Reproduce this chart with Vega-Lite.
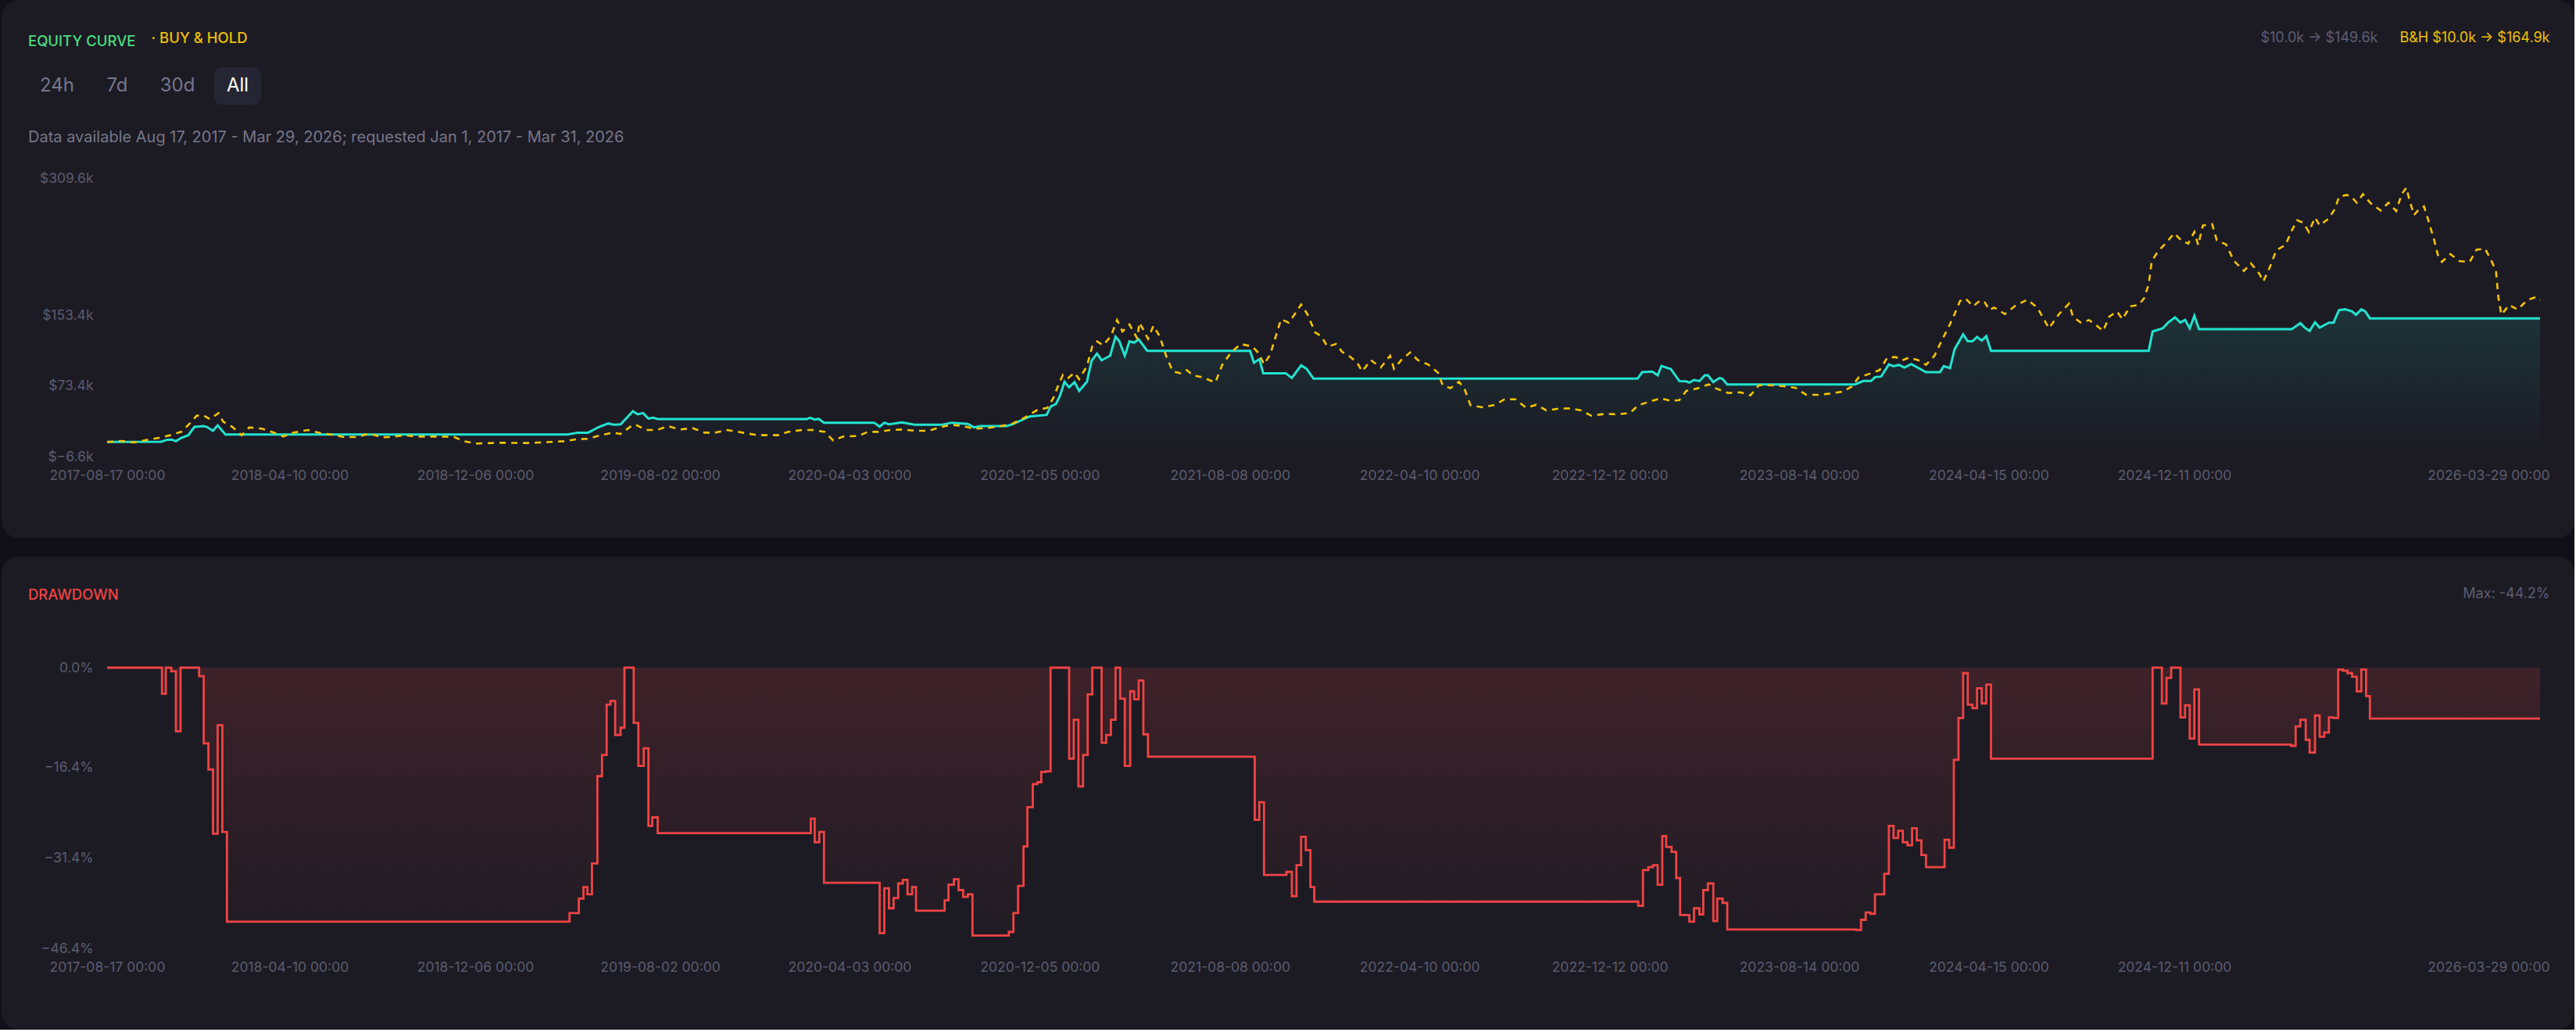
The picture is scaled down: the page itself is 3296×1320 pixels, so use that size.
{
  "$schema": "https://vega.github.io/schema/vega-lite/v6.json",
  "background": "#111018",
  "padding": {"left": 2, "top": 0, "right": 0, "bottom": 0},
  "spacing": 24,
  "config": {
    "font": "Inter",
    "view": {"stroke": null},
    "axis": {"grid": false, "domain": false, "ticks": false, "labelFont": "Inter", "labelFontSize": 17.5, "labelColor": "#5c5b6e", "titleFont": "Inter", "titleFontWeight": "normal"}
  },
  "datasets": {
    "equity": [
      {"date": "2017-08-17", "value": 10.0}, {"date": "2017-10-26", "value": 10.3}, {"date": "2017-11-03", "value": 12.6},
      {"date": "2017-11-09", "value": 12.6}, {"date": "2017-11-14", "value": 10.9}, {"date": "2017-11-21", "value": 14.7},
      {"date": "2017-11-30", "value": 17.7}, {"date": "2017-12-08", "value": 27.1}, {"date": "2017-12-20", "value": 28.0},
      {"date": "2017-12-24", "value": 27.1}, {"date": "2018-01-01", "value": 22.7}, {"date": "2018-01-07", "value": 28.9},
      {"date": "2018-01-17", "value": 18.5}, {"date": "2019-04-04", "value": 18.5}, {"date": "2019-04-18", "value": 20.6},
      {"date": "2019-05-01", "value": 20.6}, {"date": "2019-05-14", "value": 26.6}, {"date": "2019-05-27", "value": 31.0},
      {"date": "2019-06-04", "value": 29.5}, {"date": "2019-06-12", "value": 30.1}, {"date": "2019-06-28", "value": 44.9},
      {"date": "2019-07-04", "value": 41.4}, {"date": "2019-07-11", "value": 42.8}, {"date": "2019-07-18", "value": 36.6},
      {"date": "2019-07-24", "value": 37.5}, {"date": "2019-07-30", "value": 36.0}, {"date": "2020-02-08", "value": 36.0},
      {"date": "2020-02-12", "value": 37.5}, {"date": "2020-02-18", "value": 35.4}, {"date": "2020-02-23", "value": 36.3},
      {"date": "2020-03-01", "value": 31.9}, {"date": "2020-05-05", "value": 31.9}, {"date": "2020-05-12", "value": 27.4},
      {"date": "2020-05-18", "value": 31.9}, {"date": "2020-05-24", "value": 30.1}, {"date": "2020-06-10", "value": 32.2},
      {"date": "2020-06-18", "value": 31.0}, {"date": "2020-06-27", "value": 29.5}, {"date": "2020-07-31", "value": 29.5},
      {"date": "2020-08-13", "value": 31.9}, {"date": "2020-09-03", "value": 30.4}, {"date": "2020-09-11", "value": 26.6},
      {"date": "2020-09-19", "value": 28.0}, {"date": "2020-10-23", "value": 28.0}, {"date": "2020-10-31", "value": 30.1},
      {"date": "2020-11-22", "value": 39.0}, {"date": "2020-12-14", "value": 40.8}, {"date": "2020-12-19", "value": 50.2},
      {"date": "2020-12-26", "value": 53.2}, {"date": "2020-12-31", "value": 62.1}, {"date": "2021-01-06", "value": 78.4},
      {"date": "2021-01-12", "value": 72.1}, {"date": "2021-01-19", "value": 78.1}, {"date": "2021-01-25", "value": 68.0},
      {"date": "2021-02-04", "value": 78.4}, {"date": "2021-02-10", "value": 102.1}, {"date": "2021-02-17", "value": 110.3},
      {"date": "2021-02-23", "value": 102.9}, {"date": "2021-03-06", "value": 108.0}, {"date": "2021-03-13", "value": 129.6},
      {"date": "2021-03-18", "value": 124.3}, {"date": "2021-03-25", "value": 108.0}, {"date": "2021-03-31", "value": 124.3},
      {"date": "2021-04-06", "value": 122.8}, {"date": "2021-04-12", "value": 126.6}, {"date": "2021-04-23", "value": 113.6},
      {"date": "2021-09-03", "value": 113.6}, {"date": "2021-09-08", "value": 100.0}, {"date": "2021-09-15", "value": 104.1},
      {"date": "2021-09-20", "value": 88.1}, {"date": "2021-10-19", "value": 88.1}, {"date": "2021-10-27", "value": 82.8},
      {"date": "2021-11-08", "value": 97.0}, {"date": "2021-11-15", "value": 93.2}, {"date": "2021-11-24", "value": 81.9},
      {"date": "2023-01-17", "value": 81.9}, {"date": "2023-01-23", "value": 89.3}, {"date": "2023-02-05", "value": 89.9},
      {"date": "2023-02-12", "value": 85.8}, {"date": "2023-02-17", "value": 96.4}, {"date": "2023-03-01", "value": 92.9},
      {"date": "2023-03-12", "value": 79.2}, {"date": "2023-03-21", "value": 78.9}, {"date": "2023-03-25", "value": 77.5},
      {"date": "2023-03-31", "value": 80.4}, {"date": "2023-04-07", "value": 79.2}, {"date": "2023-04-14", "value": 85.8},
      {"date": "2023-04-18", "value": 85.8}, {"date": "2023-04-25", "value": 78.1}, {"date": "2023-05-03", "value": 82.8},
      {"date": "2023-05-07", "value": 81.6}, {"date": "2023-05-13", "value": 75.4}, {"date": "2023-10-25", "value": 75.4},
      {"date": "2023-11-05", "value": 79.3}, {"date": "2023-11-15", "value": 79.3}, {"date": "2023-11-20", "value": 83.7},
      {"date": "2023-11-28", "value": 84.3}, {"date": "2023-12-08", "value": 98.2}, {"date": "2023-12-14", "value": 96.1},
      {"date": "2023-12-21", "value": 97.6}, {"date": "2023-12-28", "value": 94.6}, {"date": "2024-01-06", "value": 98.5},
      {"date": "2024-01-25", "value": 89.3}, {"date": "2024-02-12", "value": 89.3}, {"date": "2024-02-17", "value": 96.1},
      {"date": "2024-02-25", "value": 94.0}, {"date": "2024-03-02", "value": 115.4}, {"date": "2024-03-13", "value": 132.3},
      {"date": "2024-03-19", "value": 124.3}, {"date": "2024-03-25", "value": 124.3}, {"date": "2024-03-31", "value": 129.3},
      {"date": "2024-04-06", "value": 125.2}, {"date": "2024-04-12", "value": 130.2}, {"date": "2024-04-18", "value": 113.6},
      {"date": "2024-11-08", "value": 113.6}, {"date": "2024-11-13", "value": 135.5}, {"date": "2024-11-26", "value": 139.1},
      {"date": "2024-12-03", "value": 145.6}, {"date": "2024-12-12", "value": 151.5}, {"date": "2024-12-19", "value": 145.6},
      {"date": "2024-12-25", "value": 148.8}, {"date": "2024-12-31", "value": 139.1}, {"date": "2025-01-06", "value": 153.3},
      {"date": "2025-01-12", "value": 138.2}, {"date": "2025-05-12", "value": 138.2}, {"date": "2025-05-23", "value": 145.0},
      {"date": "2025-05-29", "value": 139.7}, {"date": "2025-06-04", "value": 136.1}, {"date": "2025-06-11", "value": 145.9},
      {"date": "2025-06-17", "value": 139.9}, {"date": "2025-06-29", "value": 145.6}, {"date": "2025-07-05", "value": 145.6},
      {"date": "2025-07-12", "value": 159.8}, {"date": "2025-07-20", "value": 160.7}, {"date": "2025-07-29", "value": 158.3},
      {"date": "2025-08-03", "value": 154.5}, {"date": "2025-08-10", "value": 160.7}, {"date": "2025-08-15", "value": 158.3},
      {"date": "2025-08-21", "value": 150.5}, {"date": "2026-03-29", "value": 150.5}
    ],
    "buyhold": [
      {"date": "2017-08-17", "value": 10.0}, {"date": "2017-09-05", "value": 11.2}, {"date": "2017-09-21", "value": 9.4},
      {"date": "2017-10-07", "value": 12.3}, {"date": "2017-10-23", "value": 14.7}, {"date": "2017-11-07", "value": 17.7},
      {"date": "2017-11-21", "value": 21.5}, {"date": "2017-12-02", "value": 31.0}, {"date": "2017-12-11", "value": 39.9},
      {"date": "2017-12-20", "value": 39.9}, {"date": "2017-12-28", "value": 36.0}, {"date": "2018-01-08", "value": 42.8},
      {"date": "2018-01-14", "value": 33.1}, {"date": "2018-01-26", "value": 27.1}, {"date": "2018-02-07", "value": 17.7},
      {"date": "2018-02-17", "value": 26.6}, {"date": "2018-03-05", "value": 25.1}, {"date": "2018-03-19", "value": 21.2},
      {"date": "2018-04-02", "value": 16.2}, {"date": "2018-04-15", "value": 20.6}, {"date": "2018-05-04", "value": 23.6},
      {"date": "2018-05-20", "value": 20.0}, {"date": "2018-06-05", "value": 18.3}, {"date": "2018-06-19", "value": 15.6},
      {"date": "2018-07-06", "value": 15.6}, {"date": "2018-07-22", "value": 19.7}, {"date": "2018-08-07", "value": 15.3},
      {"date": "2018-08-20", "value": 15.6}, {"date": "2018-09-05", "value": 17.7}, {"date": "2018-09-21", "value": 16.2},
      {"date": "2018-10-23", "value": 16.2}, {"date": "2018-11-09", "value": 15.6}, {"date": "2018-11-21", "value": 10.9},
      {"date": "2018-12-07", "value": 8.2}, {"date": "2019-01-07", "value": 9.1}, {"date": "2019-02-11", "value": 8.8},
      {"date": "2019-03-14", "value": 10.0}, {"date": "2019-04-02", "value": 10.9}, {"date": "2019-04-15", "value": 13.0},
      {"date": "2019-05-01", "value": 13.6}, {"date": "2019-05-17", "value": 17.7}, {"date": "2019-06-02", "value": 20.6},
      {"date": "2019-06-12", "value": 19.1}, {"date": "2019-06-28", "value": 29.5}, {"date": "2019-07-03", "value": 28.9},
      {"date": "2019-07-15", "value": 23.6}, {"date": "2019-07-29", "value": 23.6}, {"date": "2019-08-12", "value": 28.0},
      {"date": "2019-08-28", "value": 24.2}, {"date": "2019-09-13", "value": 25.7}, {"date": "2019-09-29", "value": 20.6},
      {"date": "2019-10-12", "value": 20.6}, {"date": "2019-10-28", "value": 23.6}, {"date": "2019-11-17", "value": 20.6},
      {"date": "2019-12-06", "value": 17.7}, {"date": "2020-01-02", "value": 17.7}, {"date": "2020-01-15", "value": 21.5},
      {"date": "2020-02-02", "value": 23.6}, {"date": "2020-02-15", "value": 23.6}, {"date": "2020-03-02", "value": 21.5},
      {"date": "2020-03-13", "value": 11.7}, {"date": "2020-03-26", "value": 16.2}, {"date": "2020-04-14", "value": 16.8},
      {"date": "2020-04-27", "value": 21.5}, {"date": "2020-05-10", "value": 21.5}, {"date": "2020-05-26", "value": 23.6},
      {"date": "2020-06-11", "value": 24.2}, {"date": "2020-06-27", "value": 22.7}, {"date": "2020-07-15", "value": 22.7},
      {"date": "2020-07-28", "value": 26.6}, {"date": "2020-08-13", "value": 29.5}, {"date": "2020-08-28", "value": 28.0},
      {"date": "2020-09-11", "value": 25.1}, {"date": "2020-09-30", "value": 26.0}, {"date": "2020-10-16", "value": 28.0},
      {"date": "2020-10-31", "value": 31.0}, {"date": "2020-11-14", "value": 36.9}, {"date": "2020-12-02", "value": 46.4},
      {"date": "2020-12-15", "value": 48.8}, {"date": "2020-12-23", "value": 60.6}, {"date": "2020-12-29", "value": 74.5},
      {"date": "2021-01-04", "value": 86.4}, {"date": "2021-01-11", "value": 82.8}, {"date": "2021-01-19", "value": 88.7},
      {"date": "2021-01-25", "value": 81.3}, {"date": "2021-02-04", "value": 96.1}, {"date": "2021-02-11", "value": 118.9},
      {"date": "2021-02-17", "value": 124.3}, {"date": "2021-02-25", "value": 119.8}, {"date": "2021-03-07", "value": 130.2},
      {"date": "2021-03-15", "value": 148.5}, {"date": "2021-03-22", "value": 135.5}, {"date": "2021-03-31", "value": 143.5},
      {"date": "2021-04-10", "value": 127.8}, {"date": "2021-04-13", "value": 145.6}, {"date": "2021-04-24", "value": 127.2},
      {"date": "2021-05-01", "value": 142.0}, {"date": "2021-05-09", "value": 130.2}, {"date": "2021-05-18", "value": 106.5},
      {"date": "2021-05-26", "value": 90.2}, {"date": "2021-06-05", "value": 88.1}, {"date": "2021-06-13", "value": 91.7},
      {"date": "2021-06-21", "value": 85.8}, {"date": "2021-07-04", "value": 83.4}, {"date": "2021-07-20", "value": 77.5},
      {"date": "2021-07-29", "value": 97.6}, {"date": "2021-08-10", "value": 112.4}, {"date": "2021-08-22", "value": 121.3},
      {"date": "2021-09-06", "value": 118.3}, {"date": "2021-09-14", "value": 110.9}, {"date": "2021-09-21", "value": 98.2},
      {"date": "2021-09-29", "value": 109.4}, {"date": "2021-10-13", "value": 149.4}, {"date": "2021-10-23", "value": 145.6},
      {"date": "2021-11-01", "value": 156.8}, {"date": "2021-11-08", "value": 166.3}, {"date": "2021-11-16", "value": 155.3},
      {"date": "2021-11-26", "value": 134.6}, {"date": "2021-12-04", "value": 130.2}, {"date": "2021-12-12", "value": 118.3},
      {"date": "2021-12-23", "value": 121.3}, {"date": "2021-12-31", "value": 112.4}, {"date": "2022-01-10", "value": 107.1},
      {"date": "2022-01-19", "value": 100.6}, {"date": "2022-01-26", "value": 90.2}, {"date": "2022-02-06", "value": 103.0},
      {"date": "2022-02-19", "value": 94.6}, {"date": "2022-02-25", "value": 101.2}, {"date": "2022-03-03", "value": 108.0},
      {"date": "2022-03-08", "value": 93.2}, {"date": "2022-03-18", "value": 103.5}, {"date": "2022-03-29", "value": 111.8},
      {"date": "2022-04-08", "value": 102.9}, {"date": "2022-04-21", "value": 98.2}, {"date": "2022-05-04", "value": 88.7},
      {"date": "2022-05-10", "value": 74.5}, {"date": "2022-05-20", "value": 71.0}, {"date": "2022-05-31", "value": 78.4},
      {"date": "2022-06-07", "value": 71.0}, {"date": "2022-06-15", "value": 51.7}, {"date": "2022-07-01", "value": 49.4},
      {"date": "2022-07-17", "value": 52.3}, {"date": "2022-07-29", "value": 58.5}, {"date": "2022-08-12", "value": 58.5},
      {"date": "2022-08-26", "value": 48.8}, {"date": "2022-09-08", "value": 52.3}, {"date": "2022-09-21", "value": 45.8},
      {"date": "2022-10-07", "value": 47.9}, {"date": "2022-10-23", "value": 48.2}, {"date": "2022-11-05", "value": 45.8},
      {"date": "2022-11-18", "value": 39.9}, {"date": "2022-12-07", "value": 42.0}, {"date": "2022-12-22", "value": 41.4},
      {"date": "2023-01-07", "value": 42.8}, {"date": "2023-01-18", "value": 51.7}, {"date": "2023-02-03", "value": 56.2},
      {"date": "2023-02-16", "value": 59.7}, {"date": "2023-03-01", "value": 56.8}, {"date": "2023-03-12", "value": 57.6},
      {"date": "2023-03-21", "value": 68.0}, {"date": "2023-04-05", "value": 71.0}, {"date": "2023-04-19", "value": 75.4},
      {"date": "2023-04-28", "value": 71.0}, {"date": "2023-05-14", "value": 65.6}, {"date": "2023-05-30", "value": 66.5},
      {"date": "2023-06-12", "value": 63.0}, {"date": "2023-06-23", "value": 74.5}, {"date": "2023-07-09", "value": 74.5},
      {"date": "2023-07-25", "value": 73.3}, {"date": "2023-08-09", "value": 71.6}, {"date": "2023-08-23", "value": 63.6},
      {"date": "2023-09-08", "value": 63.6}, {"date": "2023-09-23", "value": 65.0}, {"date": "2023-10-09", "value": 67.1},
      {"date": "2023-10-21", "value": 73.0}, {"date": "2023-10-30", "value": 83.4}, {"date": "2023-11-12", "value": 87.2},
      {"date": "2023-11-26", "value": 91.7}, {"date": "2023-12-06", "value": 105.9}, {"date": "2023-12-17", "value": 106.5},
      {"date": "2023-12-25", "value": 102.6}, {"date": "2024-01-03", "value": 105.9}, {"date": "2024-01-15", "value": 102.9},
      {"date": "2024-01-25", "value": 97.6}, {"date": "2024-02-05", "value": 108.0}, {"date": "2024-02-13", "value": 122.8},
      {"date": "2024-02-24", "value": 142.0}, {"date": "2024-03-02", "value": 155.3}, {"date": "2024-03-09", "value": 170.1},
      {"date": "2024-03-16", "value": 173.1}, {"date": "2024-03-26", "value": 164.2}, {"date": "2024-04-03", "value": 170.1},
      {"date": "2024-04-09", "value": 170.1}, {"date": "2024-04-16", "value": 159.8}, {"date": "2024-04-22", "value": 162.7},
      {"date": "2024-04-28", "value": 159.8}, {"date": "2024-05-06", "value": 155.3}, {"date": "2024-05-20", "value": 165.1},
      {"date": "2024-06-04", "value": 171.6}, {"date": "2024-06-17", "value": 162.7}, {"date": "2024-07-02", "value": 139.1},
      {"date": "2024-07-15", "value": 155.3}, {"date": "2024-07-28", "value": 167.2}, {"date": "2024-08-02", "value": 152.4},
      {"date": "2024-08-12", "value": 145.6}, {"date": "2024-08-23", "value": 148.5}, {"date": "2024-09-02", "value": 142.0},
      {"date": "2024-09-10", "value": 136.1}, {"date": "2024-09-18", "value": 152.4}, {"date": "2024-09-28", "value": 158.3},
      {"date": "2024-10-05", "value": 149.4}, {"date": "2024-10-15", "value": 164.2}, {"date": "2024-10-26", "value": 165.7},
      {"date": "2024-11-02", "value": 173.1}, {"date": "2024-11-08", "value": 189.4}, {"date": "2024-11-12", "value": 216.0},
      {"date": "2024-11-20", "value": 226.4}, {"date": "2024-12-01", "value": 236.8}, {"date": "2024-12-11", "value": 247.1},
      {"date": "2024-12-20", "value": 239.1}, {"date": "2024-12-29", "value": 235.3}, {"date": "2025-01-06", "value": 248.6},
      {"date": "2025-01-11", "value": 233.8}, {"date": "2025-01-17", "value": 256.0}, {"date": "2025-01-29", "value": 257.5},
      {"date": "2025-02-04", "value": 239.1}, {"date": "2025-02-16", "value": 234.4}, {"date": "2025-02-26", "value": 216.0},
      {"date": "2025-03-11", "value": 204.2}, {"date": "2025-03-20", "value": 213.1}, {"date": "2025-03-31", "value": 201.2},
      {"date": "2025-04-05", "value": 192.4}, {"date": "2025-04-13", "value": 207.2}, {"date": "2025-04-22", "value": 227.9},
      {"date": "2025-05-04", "value": 233.8}, {"date": "2025-05-11", "value": 248.6}, {"date": "2025-05-19", "value": 261.9},
      {"date": "2025-05-27", "value": 259.0}, {"date": "2025-06-03", "value": 248.6}, {"date": "2025-06-11", "value": 264.9},
      {"date": "2025-06-17", "value": 256.0}, {"date": "2025-06-29", "value": 264.0}, {"date": "2025-07-07", "value": 275.2},
      {"date": "2025-07-12", "value": 288.6}, {"date": "2025-07-22", "value": 290.6}, {"date": "2025-07-27", "value": 289.5},
      {"date": "2025-08-04", "value": 281.8}, {"date": "2025-08-12", "value": 291.5}, {"date": "2025-08-22", "value": 281.2},
      {"date": "2025-09-04", "value": 272.9}, {"date": "2025-09-14", "value": 281.8}, {"date": "2025-09-24", "value": 272.3},
      {"date": "2025-10-01", "value": 291.5}, {"date": "2025-10-07", "value": 298.9}, {"date": "2025-10-11", "value": 285.6},
      {"date": "2025-10-17", "value": 267.8}, {"date": "2025-10-23", "value": 273.8}, {"date": "2025-10-30", "value": 277.6},
      {"date": "2025-11-04", "value": 263.4}, {"date": "2025-11-12", "value": 239.7}, {"date": "2025-11-17", "value": 222.0},
      {"date": "2025-11-22", "value": 214.6}, {"date": "2025-12-03", "value": 223.4}, {"date": "2025-12-15", "value": 215.4},
      {"date": "2025-12-28", "value": 214.6}, {"date": "2026-01-06", "value": 228.5}, {"date": "2026-01-17", "value": 229.4},
      {"date": "2026-01-25", "value": 216.0}, {"date": "2026-01-31", "value": 204.2}, {"date": "2026-02-03", "value": 174.6},
      {"date": "2026-02-07", "value": 154.5}, {"date": "2026-02-17", "value": 165.7}, {"date": "2026-02-28", "value": 160.4},
      {"date": "2026-03-13", "value": 171.6}, {"date": "2026-03-24", "value": 174.6}, {"date": "2026-03-29", "value": 171.0}
    ],
    "drawdown": [
      {"date": "2017-08-17", "dd": 0}, {"date": "2017-10-27", "dd": -4.3}, {"date": "2017-11-01", "dd": 0},
      {"date": "2017-11-08", "dd": -0.6}, {"date": "2017-11-14", "dd": -10.5}, {"date": "2017-11-20", "dd": 0},
      {"date": "2017-12-14", "dd": -1.4}, {"date": "2017-12-20", "dd": -12.5}, {"date": "2017-12-26", "dd": -16.8},
      {"date": "2018-01-01", "dd": -27.4}, {"date": "2018-01-07", "dd": -9.5}, {"date": "2018-01-13", "dd": -27.1},
      {"date": "2018-01-19", "dd": -41.9}, {"date": "2019-04-07", "dd": -40.5}, {"date": "2019-04-19", "dd": -38.1},
      {"date": "2019-04-25", "dd": -36.2}, {"date": "2019-04-30", "dd": -37.4}, {"date": "2019-05-06", "dd": -32.3},
      {"date": "2019-05-13", "dd": -17.9}, {"date": "2019-05-19", "dd": -14.4}, {"date": "2019-05-25", "dd": -6.1},
      {"date": "2019-05-30", "dd": -5.5}, {"date": "2019-06-05", "dd": -11.1}, {"date": "2019-06-12", "dd": -9.9},
      {"date": "2019-06-17", "dd": 0}, {"date": "2019-06-29", "dd": -9.1}, {"date": "2019-07-05", "dd": -16.2},
      {"date": "2019-07-12", "dd": -13.3}, {"date": "2019-07-18", "dd": -26.1}, {"date": "2019-07-23", "dd": -24.7},
      {"date": "2019-07-30", "dd": -27.3}, {"date": "2020-02-13", "dd": -24.9}, {"date": "2020-02-18", "dd": -28.8},
      {"date": "2020-02-24", "dd": -27.1}, {"date": "2020-03-01", "dd": -35.5}, {"date": "2020-05-12", "dd": -43.8},
      {"date": "2020-05-18", "dd": -36.4}, {"date": "2020-05-24", "dd": -39.7}, {"date": "2020-05-30", "dd": -38.0},
      {"date": "2020-06-05", "dd": -35.6}, {"date": "2020-06-11", "dd": -35.0}, {"date": "2020-06-17", "dd": -37.4},
      {"date": "2020-06-23", "dd": -36.2}, {"date": "2020-06-28", "dd": -40.1}, {"date": "2020-08-04", "dd": -38.4},
      {"date": "2020-08-09", "dd": -35.8}, {"date": "2020-08-16", "dd": -34.9}, {"date": "2020-08-22", "dd": -36.7},
      {"date": "2020-08-28", "dd": -37.8}, {"date": "2020-09-03", "dd": -37.4}, {"date": "2020-09-09", "dd": -44.2},
      {"date": "2020-10-26", "dd": -43.6}, {"date": "2020-11-01", "dd": -40.5}, {"date": "2020-11-07", "dd": -36.0},
      {"date": "2020-11-14", "dd": -29.5}, {"date": "2020-11-19", "dd": -23.0}, {"date": "2020-11-26", "dd": -19.2},
      {"date": "2020-12-02", "dd": -18.9}, {"date": "2020-12-07", "dd": -17.2}, {"date": "2020-12-13", "dd": -17.1},
      {"date": "2020-12-19", "dd": 0}, {"date": "2021-01-12", "dd": -15.0}, {"date": "2021-01-18", "dd": -8.6},
      {"date": "2021-01-24", "dd": -19.6}, {"date": "2021-01-30", "dd": -14.4}, {"date": "2021-02-05", "dd": -4.4},
      {"date": "2021-02-11", "dd": 0}, {"date": "2021-02-23", "dd": -12.4}, {"date": "2021-03-01", "dd": -11.1},
      {"date": "2021-03-07", "dd": -8.6}, {"date": "2021-03-13", "dd": 0}, {"date": "2021-03-19", "dd": -5.1},
      {"date": "2021-03-25", "dd": -16.2}, {"date": "2021-04-01", "dd": -3.9}, {"date": "2021-04-06", "dd": -5.2},
      {"date": "2021-04-12", "dd": -2.1}, {"date": "2021-04-18", "dd": -11.0}, {"date": "2021-04-24", "dd": -14.7},
      {"date": "2021-09-09", "dd": -25.1}, {"date": "2021-09-15", "dd": -22.2}, {"date": "2021-09-21", "dd": -34.2},
      {"date": "2021-10-20", "dd": -33.7}, {"date": "2021-10-27", "dd": -37.7}, {"date": "2021-11-02", "dd": -32.6},
      {"date": "2021-11-08", "dd": -27.9}, {"date": "2021-11-14", "dd": -30.1}, {"date": "2021-11-20", "dd": -36.2},
      {"date": "2021-11-25", "dd": -38.6}, {"date": "2023-01-18", "dd": -39.3}, {"date": "2023-01-24", "dd": -33.4},
      {"date": "2023-01-31", "dd": -32.9}, {"date": "2023-02-06", "dd": -32.6}, {"date": "2023-02-12", "dd": -35.8},
      {"date": "2023-02-18", "dd": -27.8}, {"date": "2023-02-23", "dd": -29.6}, {"date": "2023-03-02", "dd": -30.4},
      {"date": "2023-03-08", "dd": -34.7}, {"date": "2023-03-13", "dd": -40.8}, {"date": "2023-03-25", "dd": -41.9},
      {"date": "2023-03-31", "dd": -39.7}, {"date": "2023-04-07", "dd": -40.7}, {"date": "2023-04-12", "dd": -36.7},
      {"date": "2023-04-18", "dd": -35.6}, {"date": "2023-04-25", "dd": -41.8}, {"date": "2023-04-30", "dd": -38.1},
      {"date": "2023-05-07", "dd": -38.8}, {"date": "2023-05-13", "dd": -43.2}, {"date": "2023-10-27", "dd": -43.3},
      {"date": "2023-11-02", "dd": -41.6}, {"date": "2023-11-08", "dd": -40.4}, {"date": "2023-11-14", "dd": -40.6},
      {"date": "2023-11-20", "dd": -37.4}, {"date": "2023-12-02", "dd": -34.0}, {"date": "2023-12-08", "dd": -26.1},
      {"date": "2023-12-14", "dd": -28.1}, {"date": "2023-12-20", "dd": -26.9}, {"date": "2023-12-26", "dd": -28.8},
      {"date": "2024-01-01", "dd": -29.3}, {"date": "2024-01-07", "dd": -26.5}, {"date": "2024-01-13", "dd": -28.5},
      {"date": "2024-01-19", "dd": -30.9}, {"date": "2024-01-25", "dd": -32.9}, {"date": "2024-02-18", "dd": -28.4},
      {"date": "2024-02-24", "dd": -29.7}, {"date": "2024-03-01", "dd": -15.2}, {"date": "2024-03-07", "dd": -8.3},
      {"date": "2024-03-13", "dd": -0.9}, {"date": "2024-03-19", "dd": -6.1}, {"date": "2024-03-25", "dd": -6.7},
      {"date": "2024-03-31", "dd": -3.4}, {"date": "2024-04-06", "dd": -5.9}, {"date": "2024-04-12", "dd": -2.8},
      {"date": "2024-04-18", "dd": -15.0}, {"date": "2024-11-13", "dd": 0}, {"date": "2024-11-25", "dd": -5.9},
      {"date": "2024-12-01", "dd": -1.7}, {"date": "2024-12-07", "dd": 0}, {"date": "2024-12-19", "dd": -8.2},
      {"date": "2024-12-25", "dd": -6.2}, {"date": "2024-12-31", "dd": -11.7}, {"date": "2025-01-06", "dd": -3.6},
      {"date": "2025-01-12", "dd": -12.7}, {"date": "2025-05-11", "dd": -12.9}, {"date": "2025-05-17", "dd": -9.7},
      {"date": "2025-05-23", "dd": -8.6}, {"date": "2025-05-30", "dd": -11.9}, {"date": "2025-06-04", "dd": -14.0},
      {"date": "2025-06-11", "dd": -7.9}, {"date": "2025-06-17", "dd": -11.4}, {"date": "2025-06-23", "dd": -10.7},
      {"date": "2025-06-29", "dd": -8.2}, {"date": "2025-07-05", "dd": -8.3}, {"date": "2025-07-11", "dd": -0.3},
      {"date": "2025-07-17", "dd": -0.5}, {"date": "2025-07-23", "dd": -0.9}, {"date": "2025-07-29", "dd": -1.5},
      {"date": "2025-08-04", "dd": -3.9}, {"date": "2025-08-10", "dd": -0.3}, {"date": "2025-08-16", "dd": -4.7},
      {"date": "2025-08-21", "dd": -8.4}, {"date": "2026-03-29", "dd": -8.4}
    ],
    "buttons": [
      {"label": "24h", "active": false},
      {"label": "7d", "active": false},
      {"label": "30d", "active": false},
      {"label": "All", "active": true}
    ]
  },
  "vconcat": [
    {
      "width": 3292,
      "height": 688,
      "view": {"fill": "#1c1b24", "stroke": null, "cornerRadius": 22},
      "title": {
        "text": "EQUITY CURVE",
        "subtitle": "Data available Aug 17, 2017 - Mar 29, 2026; requested Jan 1, 2017 - Mar 31, 2026",
        "anchor": "start",
        "frame": "group",
        "offset": -186,
        "dx": 34,
        "font": "Inter",
        "fontSize": 18.5,
        "fontWeight": 500,
        "color": "#4ade80",
        "subtitleFont": "Inter",
        "subtitleFontSize": 20,
        "subtitleColor": "#77768a",
        "subtitlePadding": 104
      },
      "layer": [
        {
          "encoding": {
            "x": {
              "field": "date",
              "type": "temporal",
              "scale": {
                "type": "utc",
                "domain": [{"year": 2017, "month": 8, "date": 17, "utc": true}, {"year": 2026, "month": 3, "date": 29, "utc": true}],
                "range": [135, 3248]
              },
              "axis": {
                "values": [
                  {"year": 2017, "month": 8, "date": 17, "utc": true}, {"year": 2018, "month": 4, "date": 10, "utc": true},
                  {"year": 2018, "month": 12, "date": 6, "utc": true}, {"year": 2019, "month": 8, "date": 2, "utc": true},
                  {"year": 2020, "month": 4, "date": 3, "utc": true}, {"year": 2020, "month": 12, "date": 5, "utc": true},
                  {"year": 2021, "month": 8, "date": 8, "utc": true}, {"year": 2022, "month": 4, "date": 10, "utc": true},
                  {"year": 2022, "month": 12, "date": 12, "utc": true}, {"year": 2023, "month": 8, "date": 14, "utc": true},
                  {"year": 2024, "month": 4, "date": 15, "utc": true}, {"year": 2024, "month": 12, "date": 11, "utc": true},
                  {"year": 2026, "month": 3, "date": 29, "utc": true}
                ],
                "labelExpr": "utcFormat(datum.value, '%Y-%m-%d %H:%M')",
                "labelAlign": {"condition": {"test": "datum.value > utc(2026, 0, 1)", "value": "right"}, "value": "center"},
                "labelOffset": {"condition": {"test": "datum.value > utc(2026, 0, 1)", "value": 12}, "value": 0},
                "labelOverlap": false,
                "labelBound": false,
                "labelFlush": false,
                "labelPadding": 15,
                "offset": -104,
                "title": "$10.0k → $149.6k",
                "titleX": 3040,
                "titleY": -536,
                "titleAlign": "right",
                "titleBaseline": "middle",
                "titleColor": "#5e5d72",
                "titleFontSize": 18
              }
            },
            "y": {
              "field": "value",
              "type": "quantitative",
              "scale": {"domain": [-6.6, 309.6], "range": [584, 228], "nice": false, "zero": false},
              "axis": {
                "values": [-6.6, 73.4, 153.4, 309.6],
                "labelExpr": "'$' + format(datum.value, '.1f') + 'k'",
                "offset": -135,
                "labelPadding": 18,
                "title": "B&H $10.0k → $164.9k",
                "titleAngle": 0,
                "titleX": 3125,
                "titleY": 48,
                "titleAlign": "right",
                "titleBaseline": "middle",
                "titleColor": "#f0c000",
                "titleFontSize": 18
              }
            }
          },
          "layer": [
            {
              "data": {"name": "equity"},
              "mark": {
                "type": "area",
                "color": {
                  "gradient": "linear", "x1": 0, "y1": 0, "x2": 0, "y2": 1,
                  "stops": [{"offset": 0, "color": "rgba(34,227,207,0.12)"}, {"offset": 1, "color": "rgba(34,227,207,0.0)"}]
                }
              }
            },
            {
              "data": {"name": "equity"},
              "mark": {"type": "line", "color": "#22e3cf", "strokeWidth": 3}
            },
            {
              "data": {"name": "buyhold"},
              "mark": {"type": "line", "strokeWidth": 2.6, "strokeDash": [8, 7]},
              "encoding": {
                "color": {
                  "datum": "BUY & HOLD",
                  "type": "nominal",
                  "scale": {"range": ["#f5c400"]},
                  "legend": {
                    "title": null,
                    "orient": "none",
                    "legendX": 173,
                    "legendY": 40,
                    "padding": 0,
                    "symbolSize": 0,
                    "symbolStrokeWidth": 0,
                    "labelOffset": 0,
                    "labelExpr": "'· ' + datum.label",
                    "labelColor": "#f0c000",
                    "labelFont": "Inter",
                    "labelFontSize": 18.5,
                    "labelFontWeight": 500
                  }
                }
              }
            }
          ]
        },
        {
          "data": {"name": "buttons"},
          "encoding": {
            "x": {
              "field": "label",
              "type": "nominal",
              "sort": null,
              "scale": {"type": "band", "domain": ["24h", "7d", "30d", "All"], "range": [32.5, 340.5], "paddingInner": 0.22, "paddingOuter": 0.11},
              "axis": null
            },
            "y": {
              "datum": "range",
              "type": "nominal",
              "scale": {"type": "band", "range": [86, 134], "paddingInner": 0, "paddingOuter": 0},
              "axis": null
            }
          },
          "layer": [
            {
              "transform": [{"filter": "datum.active"}],
              "mark": {"type": "bar", "cornerRadius": 10, "color": "#262533"}
            },
            {
              "mark": {"type": "text", "font": "Inter", "fontSize": 24, "baseline": "middle"},
              "encoding": {
                "text": {"field": "label"},
                "color": {"condition": {"test": "datum.active", "value": "#ffffff"}, "value": "#77768b"}
              }
            }
          ]
        }
      ],
      "resolve": {"scale": {"x": "independent", "y": "independent"}}
    },
    {
      "width": 3292,
      "height": 605,
      "view": {"fill": "#1c1b24", "stroke": null, "cornerRadius": 22},
      "title": {
        "text": "DRAWDOWN",
        "anchor": "start",
        "frame": "group",
        "offset": -58,
        "dx": 34,
        "font": "Inter",
        "fontSize": 18.5,
        "fontWeight": 500,
        "color": "#ef4444"
      },
      "data": {"name": "drawdown"},
      "encoding": {
        "x": {
          "field": "date",
          "type": "temporal",
          "scale": {
            "type": "utc",
            "domain": [{"year": 2017, "month": 8, "date": 17, "utc": true}, {"year": 2026, "month": 3, "date": 29, "utc": true}],
            "range": [135, 3248]
          },
          "axis": {
            "values": [
              {"year": 2017, "month": 8, "date": 17, "utc": true}, {"year": 2018, "month": 4, "date": 10, "utc": true},
              {"year": 2018, "month": 12, "date": 6, "utc": true}, {"year": 2019, "month": 8, "date": 2, "utc": true},
              {"year": 2020, "month": 4, "date": 3, "utc": true}, {"year": 2020, "month": 12, "date": 5, "utc": true},
              {"year": 2021, "month": 8, "date": 8, "utc": true}, {"year": 2022, "month": 4, "date": 10, "utc": true},
              {"year": 2022, "month": 12, "date": 12, "utc": true}, {"year": 2023, "month": 8, "date": 14, "utc": true},
              {"year": 2024, "month": 4, "date": 15, "utc": true}, {"year": 2024, "month": 12, "date": 11, "utc": true},
              {"year": 2026, "month": 3, "date": 29, "utc": true}
            ],
            "labelExpr": "utcFormat(datum.value, '%Y-%m-%d %H:%M')",
            "labelAlign": {"condition": {"test": "datum.value > utc(2026, 0, 1)", "value": "right"}, "value": "center"},
            "labelOffset": {"condition": {"test": "datum.value > utc(2026, 0, 1)", "value": 12}, "value": 0},
            "labelOverlap": false,
            "labelBound": false,
            "labelFlush": false,
            "labelPadding": 15,
            "offset": -103.3,
            "title": null
          }
        },
        "y": {
          "field": "dd",
          "type": "quantitative",
          "scale": {"domain": [-46.4, 0], "range": [501.7, 142], "nice": false, "zero": false},
          "axis": {
            "values": [0, -16.4, -31.4, -46.4],
            "labelExpr": "format(datum.value, '.1f') + '%'",
            "offset": -135,
            "labelPadding": 18,
            "title": "Max: -44.2%",
            "titleAngle": 0,
            "titleX": 3125,
            "titleY": 47,
            "titleAlign": "right",
            "titleBaseline": "middle",
            "titleColor": "#5e5d72",
            "titleFontSize": 18
          }
        }
      },
      "layer": [
        {
          "mark": {
            "type": "area",
            "interpolate": "step-after",
            "color": {
              "gradient": "linear", "x1": 0, "y1": 0, "x2": 0, "y2": 1,
              "stops": [{"offset": 0, "color": "rgba(239,68,68,0.16)"}, {"offset": 1, "color": "rgba(239,68,68,0.02)"}]
            }
          }
        },
        {
          "mark": {"type": "line", "interpolate": "step-after", "color": "#ef4444", "strokeWidth": 2.8}
        }
      ]
    }
  ]
}
